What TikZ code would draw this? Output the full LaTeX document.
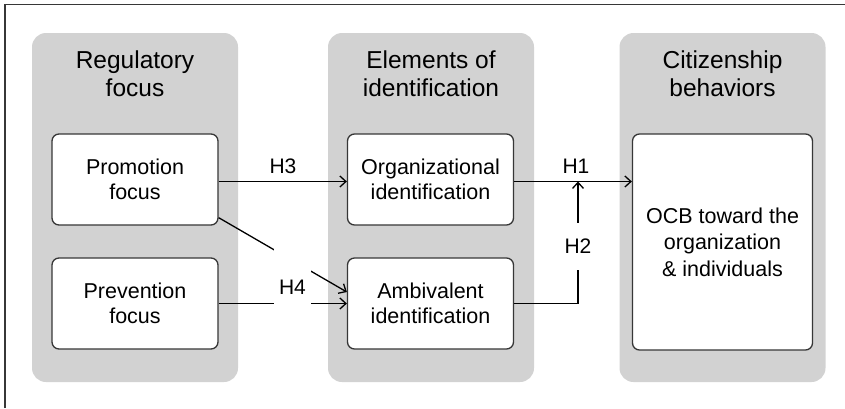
\documentclass[tikz,border=0pt]{standalone}
\usepackage{fontspec}
\setmainfont{Liberation Sans}
\usetikzlibrary{positioning,arrows.meta,calc}
\definecolor{panelgray}{RGB}{210,210,210}
\definecolor{boxline}{RGB}{55,55,55}

\begin{document}
\begin{tikzpicture}[
  x=1pt,y=-1pt,
  line width=1.3pt,
  panel/.style={fill=panelgray,rounded corners=14pt,inner sep=0pt,
                minimum width=206pt,minimum height=349pt},
  head/.style={align=center,font=\fontsize{24.5}{28}\selectfont},
  box/.style={draw=boxline,fill=white,rounded corners=7pt,align=center,
              inner sep=0pt,minimum width=166pt,minimum height=91pt,
              font=\fontsize{21.5}{25}\selectfont},
  hyp/.style={inner sep=0pt,font=\fontsize{21}{25}\selectfont},
  arr/.style={-{Straight Barb[length=6pt,width=11pt]},line width=1.3pt}
]
\useasboundingbox (0,0) rectangle (845,408);

% frame
\draw[boxline,line width=1.5pt] (5,408) |- (845,4.5);

% columns
\node[panel] (regpanel) at (135,207.5) {};
\node[panel] (idpanel)  at (431,207.5) {};
\node[panel] (ocbpanel) at (722.5,207.5) {};

\node[head] (reghead) at (135,74) {Regulatory\\focus};
\node[head] (idhead)  at (431,74) {Elements of\\identification};
\node[head] (ocbhead) at (722.5,74) {Citizenship\\behaviors};

% boxes
\node[box] (promo) at (135,179.5)   {Promotion\\focus};
\node[box] (prev)  at (135,303.5)   {Prevention\\focus};
\node[box] (org)   at (430.5,179.5) {Organizational\\identification};
\node[box] (amb)   at (430.5,303.5) {Ambivalent\\identification};
\node[box,minimum width=180pt,minimum height=216pt,
      font=\fontsize{21.5}{26.5}\selectfont]
      (ocb) at (722.5,242) {OCB toward the\\organization\\\& individuals};

% paths
\coordinate (h1s) at ([yshift=-2pt]org.east);
\coordinate (h2j) at (578,181.5);
\draw[arr] ([yshift=-2pt]promo.east) -- ([yshift=-2pt]org.west);
\draw[arr] (h1s) -- (h1s -| ocb.west);
\draw[arr] (amb.east) -| (h2j);
\draw[arr] ([yshift=8pt]promo.south east) -- ([yshift=11.5pt]amb.west);
\draw[arr] (prev.east) -- (amb.west);

% labels
\node[hyp] (h3) at (283,166) {H3};
\node[hyp] (h1) at (576,166) {H1};
\node[hyp,fill=white,minimum width=28pt,minimum height=47pt] (h2) at (578,246.5) {H2};
\node[hyp,fill=white,anchor=base,text height=49pt,text depth=14pt,
      minimum width=37pt] (h4) at (292.5,294.3) {H4};
\end{tikzpicture}
\end{document}
